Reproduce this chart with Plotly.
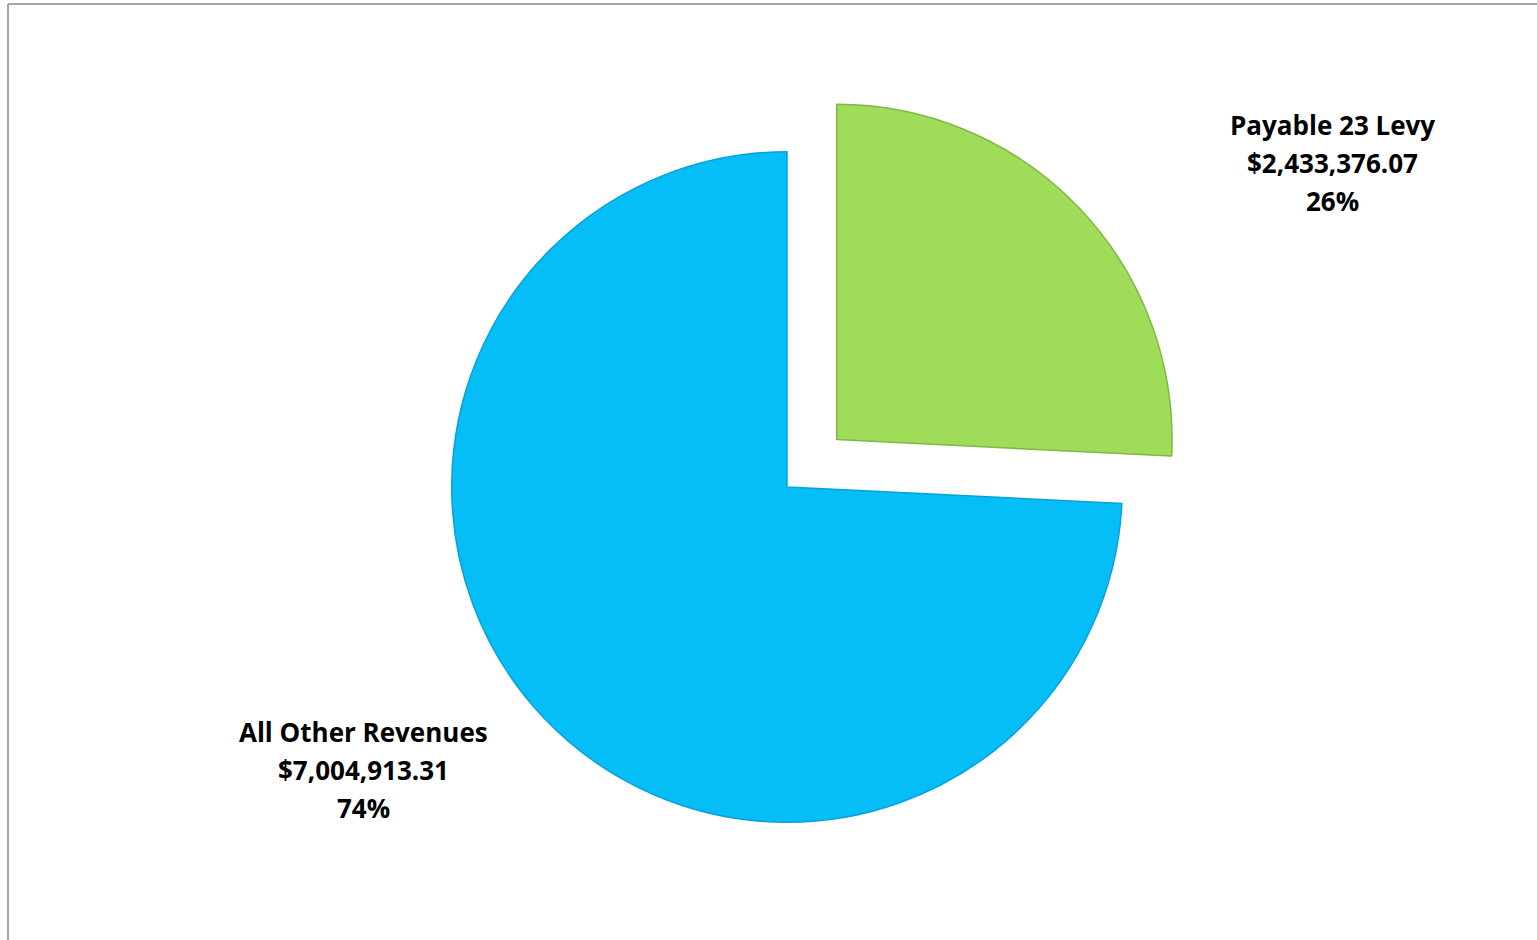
import plotly.graph_objects as go

categories = ["Payable 23 Levy", "All Other Revenues"]
values = [2433376.07, 7004913.31]
colors = ["#9EDC5A", "#05BEF8"]
edge_colors = ["#7FB842", "#0AA0D8"]
pulls = [0.205, 0]

W, H = 1537, 940
total = sum(values)

fig = go.Figure()
fig.add_trace(go.Pie(
    labels=categories,
    values=values,
    sort=False,
    direction="clockwise",
    rotation=0,
    pull=pulls,
    textinfo="none",
    hoverinfo="label+value+percent",
    marker=dict(colors=colors, line=dict(color=edge_colors, width=1.5)),
    domain=dict(x=[382.5 / W, 1191.5 / W], y=[1 - 891 / H, 1 - 83 / H]),
    showlegend=False,
))

# label positions (paper px): centre x, first line y
label_pos = [(1332, 125), (363, 732)]
line_gap = 38
for cat, val, (lx, ly) in zip(categories, values, label_pos):
    lines = [cat, f"${val:,.2f}", f"{round(val / total * 100)}%"]
    for i, t in enumerate(lines):
        fig.add_annotation(
            x=lx / W, y=1 - (ly + i * line_gap) / H, xref="paper", yref="paper",
            text=f"<b>{t}</b>", showarrow=False, xanchor="center", yanchor="middle",
            font=dict(family="Open Sans", size=26, color="#000000"),
        )

# chart frame (left and top edges visible)
fig.add_shape(type="line", xref="paper", yref="paper",
              x0=8 / W, x1=1, y0=1 - 4 / H, y1=1 - 4 / H,
              line=dict(color="#A6A6A6", width=2))
fig.add_shape(type="line", xref="paper", yref="paper",
              x0=8 / W, x1=8 / W, y0=0, y1=1 - 4 / H,
              line=dict(color="#A6A6A6", width=2))

fig.update_layout(
    width=W, height=H,
    margin=dict(l=0, r=0, t=0, b=0),
    paper_bgcolor="white", plot_bgcolor="white",
)

fig.write_html("out.html")
